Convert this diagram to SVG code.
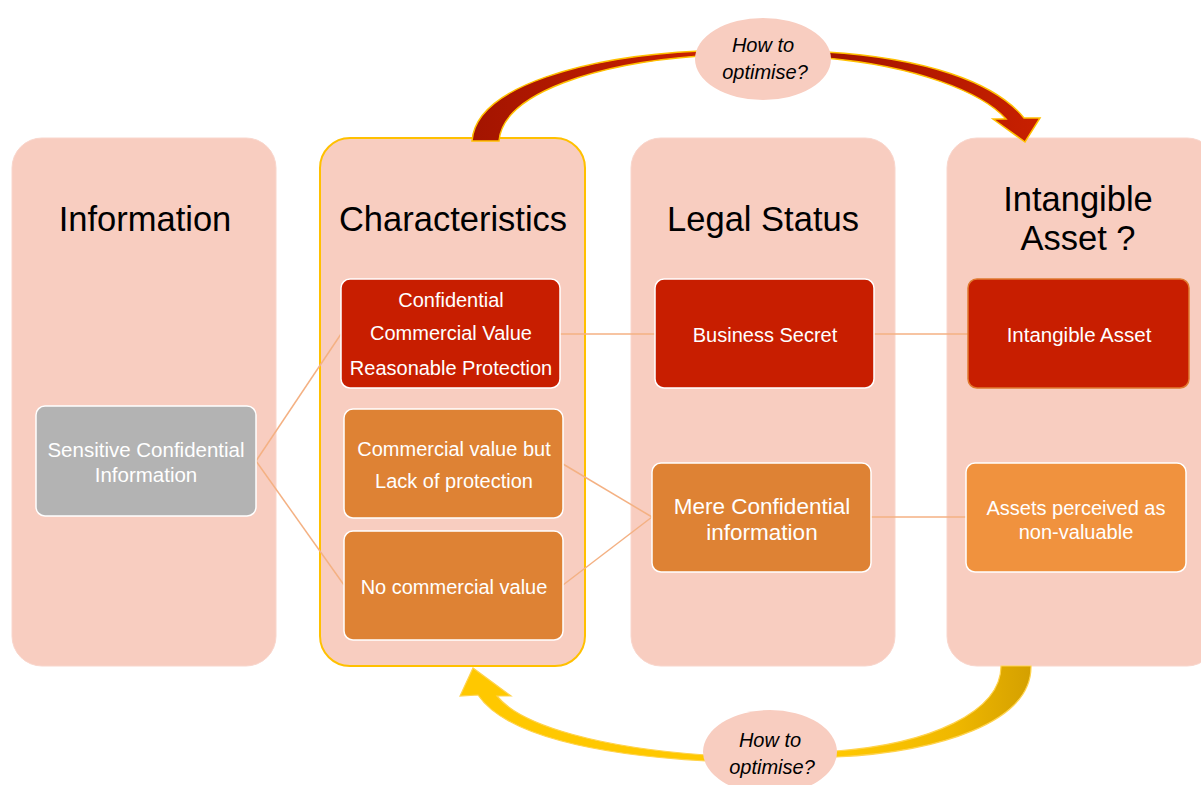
<svg xmlns="http://www.w3.org/2000/svg" width="1201" height="785" viewBox="0 0 1201 785">
<defs>
<style>
.col{fill:#F8CDC0;stroke:#F9D6CC;stroke-width:1}
.title{font-family:"Liberation Sans",Arial,sans-serif;font-size:34.5px;fill:#000;text-anchor:middle}
.nt{font-family:"Liberation Sans",Arial,sans-serif;font-size:20px;fill:#fff;text-anchor:middle}
.q{font-family:"Liberation Sans",Arial,sans-serif;font-size:20px;font-style:italic;fill:#000;text-anchor:middle}
.red{fill:#C81E00;stroke:#fff;stroke-width:1.5}
.org{fill:#DE8234;stroke:#fff;stroke-width:1.5}
.lor{fill:#F0923E;stroke:#fff;stroke-width:1.5}
.gry{fill:#B3B3B3;stroke:#fff;stroke-width:1.5}
.con{stroke:#F4B183;stroke-width:1.5;fill:none}
.ell{fill:#F8CDC0}
</style>
<linearGradient id="gTop" x1="0" y1="0" x2="1" y2="0">
<stop offset="0" stop-color="#A31400"/>
<stop offset="1" stop-color="#C82000"/>
</linearGradient>
<linearGradient id="gBot" x1="0" y1="0" x2="1" y2="0">
<stop offset="0" stop-color="#FFC800"/>
<stop offset="0.6" stop-color="#F0B800"/>
<stop offset="1" stop-color="#D4A000"/>
</linearGradient>
</defs>

<g id="col-information"><rect class="col" x="12" y="138" width="264" height="528" rx="30"/><text class="title" x="145" y="231">Information</text></g>
<g id="col-characteristics"><rect class="col" x="320" y="138" width="265" height="528" rx="30" style="stroke:#FFC000;stroke-width:2"/><text class="title" x="453" y="231">Characteristics</text></g>
<g id="col-legal"><rect class="col" x="631" y="138" width="264" height="528" rx="30"/><text class="title" x="763" y="231">Legal Status</text></g>
<g id="col-intangible"><rect class="col" x="947" y="138" width="270" height="528" rx="30"/><text class="title" x="1078" y="211">Intangible</text><text class="title" x="1078" y="250">Asset ?</text></g>

<g id="connectors">
<line class="con" x1="256" y1="461" x2="341" y2="334"/>
<line class="con" x1="256" y1="461" x2="344" y2="585"/>
<line class="con" x1="560" y1="334" x2="655" y2="334"/>
<line class="con" x1="563" y1="464" x2="652" y2="517"/>
<line class="con" x1="563" y1="585" x2="652" y2="517"/>
<line class="con" x1="874" y1="334" x2="968" y2="334"/>
<line class="con" x1="871" y1="517" x2="966" y2="517"/>
</g>

<g id="arrow-top">
<path d="M472,141 C476,85 590,56 700,51 L700,56 C600,63 503,92 499,141 Z" fill="url(#gTop)" stroke="#FFC000" stroke-width="1.5"/>
<path d="M826,52 C925,58 995,82 1024,118 L1040,118 L1025,142 L993,119 L1006,119 C982,92 915,66 826,58 Z" fill="url(#gTop)" stroke="#FFC000" stroke-width="1.5"/>
</g>
<g id="arrow-bottom">
<path d="M1031,666 C1032,722 940,752 836,757 L836,751 C930,744 1001,712 1001,666 Z" fill="url(#gBot)" stroke="#FFD34D" stroke-width="1.2"/>
<path d="M706,761 C595,755 505,735 478,695 L460,696 L473,668 L511,696 L497,696 C522,727 605,748 706,755 Z" fill="#FFC800" stroke="#FFD34D" stroke-width="1.2"/>
</g>

<g id="q-top"><ellipse class="ell" cx="763" cy="59" rx="68" ry="41"/><text class="q" x="763" y="52">How to</text><text class="q" x="765" y="79">optimise?</text></g>
<g id="q-bottom"><ellipse class="ell" cx="770" cy="752" rx="67" ry="42"/><text class="q" x="770" y="747">How to</text><text class="q" x="772" y="774">optimise?</text></g>

<g id="n-sensitive"><rect class="gry" x="36" y="406" width="220" height="110" rx="9"/><text class="nt" x="146" y="457" style="font-size:20.5px">Sensitive Confidential</text><text class="nt" x="146" y="482" style="font-size:20.5px">Information</text></g>
<g id="n-confidential"><rect class="red" x="341" y="279" width="219" height="109" rx="9"/><text class="nt" x="451" y="307">Confidential</text><text class="nt" x="451" y="340">Commercial Value</text><text class="nt" x="451" y="375">Reasonable Protection</text></g>
<g id="n-lack"><rect class="org" x="344" y="409" width="219" height="109" rx="9"/><text class="nt" x="454" y="456">Commercial value but</text><text class="nt" x="454" y="488">Lack of protection</text></g>
<g id="n-nocommercial"><rect class="org" x="344" y="531" width="219" height="109" rx="9"/><text class="nt" x="454" y="594">No commercial value</text></g>
<g id="n-business"><rect class="red" x="655" y="279" width="219" height="109" rx="9"/><text class="nt" x="765" y="342">Business Secret</text></g>
<g id="n-mere"><rect class="org" x="652" y="463" width="219" height="109" rx="9"/><text class="nt" x="762" y="514" style="font-size:22.5px">Mere Confidential</text><text class="nt" x="762" y="540" style="font-size:22.5px">information</text></g>
<g id="n-intangible"><rect class="red" x="968" y="279" width="221" height="109" rx="9" style="stroke:#E07A30"/><text class="nt" x="1079" y="342" style="font-size:20.5px">Intangible Asset</text></g>
<g id="n-assets"><rect class="lor" x="966" y="463" width="220" height="109" rx="9"/><text class="nt" x="1076" y="515">Assets perceived as</text><text class="nt" x="1076" y="539">non-valuable</text></g>
</svg>
